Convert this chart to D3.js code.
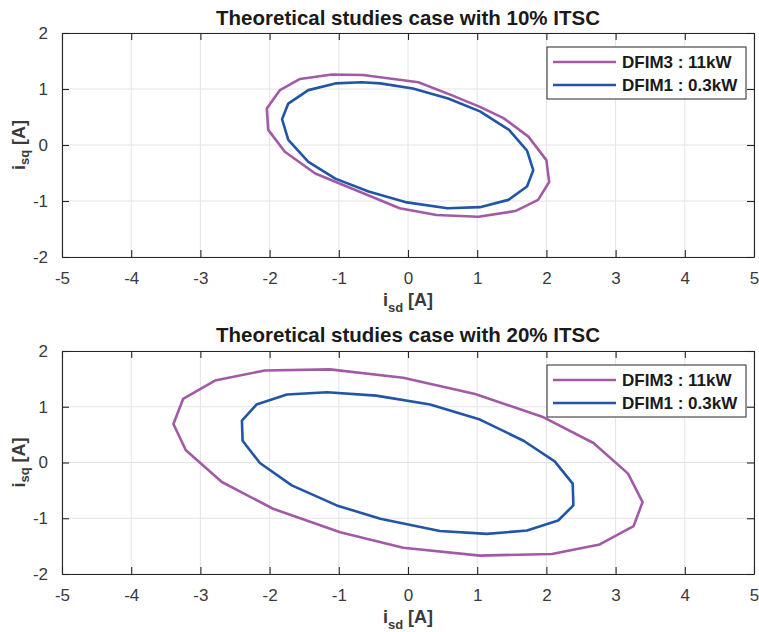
<!DOCTYPE html>
<html>
<head>
<meta charset="utf-8">
<script src="https://cdn.jsdelivr.net/npm/d3@7"></script>
<style>
  body { margin: 0; background: #fff; }
  svg { display: block; font-family: "Liberation Sans", Arial, Helvetica, sans-serif; }
</style>
</head>
<body>
<div id="chart"></div>
<script>
var svgWidth = 759;
var svgHeight = 632;

// Data: closed (isd, isq) trajectories in A
var titles = ["Theoretical studies case with 10% ITSC", "Theoretical studies case with 20% ITSC"];
var seriesNames = ["DFIM3 : 11kW", "DFIM1 : 0.3kW"];
var seriesColors = ["#a25aa7", "#2155a5"];
var xTicks = [-5, -4, -3, -2, -1, 0, 1, 2, 3, 4, 5];
var yTicks = [-2, -1, 0, 1, 2];

var dfim3_10 = [
  [-2.04, 0.65], [-1.85, 0.98], [-1.56, 1.18], [-1.10, 1.26], [-0.65, 1.25],
  [0.15, 1.12], [0.61, 0.90], [1.04, 0.68], [1.38, 0.48], [1.74, 0.15],
  [2.00, -0.27], [2.04, -0.66], [1.88, -0.98], [1.55, -1.18], [1.02, -1.28],
  [0.41, -1.25], [-0.12, -1.13], [-1.34, -0.51], [-1.78, -0.12], [-2.02, 0.27]
];
var dfim1_10 = [
  [-1.82, 0.46], [-1.73, 0.74], [-1.44, 0.98], [-1.05, 1.10], [-0.67, 1.12],
  [-0.40, 1.10], [0.07, 1.01], [0.58, 0.83], [1.04, 0.60], [1.46, 0.27],
  [1.72, -0.10], [1.81, -0.45], [1.72, -0.74], [1.45, -0.98], [1.04, -1.11],
  [0.57, -1.13], [-0.04, -1.02], [-0.57, -0.83], [-1.05, -0.60], [-1.44, -0.30],
  [-1.73, 0.09]
];
var dfim3_20 = [
  [-3.39, 0.69], [-3.25, 1.14], [-2.79, 1.47], [-2.07, 1.65], [-1.13, 1.67],
  [-0.07, 1.52], [0.97, 1.23], [1.96, 0.81], [2.68, 0.35], [3.18, -0.20],
  [3.39, -0.71], [3.26, -1.14], [2.77, -1.47], [2.08, -1.64], [1.04, -1.67],
  [-0.07, -1.53], [-0.98, -1.25], [-1.95, -0.83], [-2.69, -0.35], [-3.21, 0.22]
];
var dfim1_20 = [
  [-2.40, 0.75], [-2.19, 1.04], [-1.75, 1.22], [-1.17, 1.26], [-0.46, 1.20],
  [0.32, 1.04], [1.04, 0.77], [1.67, 0.39], [2.12, 0.02], [2.38, -0.38],
  [2.39, -0.77], [2.17, -1.04], [1.72, -1.22], [1.14, -1.28], [0.46, -1.23],
  [-0.40, -1.01], [-1.03, -0.77], [-1.68, -0.41], [-2.14, -0.01], [-2.39, 0.39]
];

var panels = [
  {title: titles[0], series: [dfim3_10, dfim1_10], top: 33, bottom: 257, titleY: 25},
  {title: titles[1], series: [dfim3_20, dfim1_20], top: 351, bottom: 574, titleY: 342}
];

var axLeft = 62, axRight = 754;
var ink = "#262626";
var fmt = d => String(d);   // plain hyphen minus like the original

var svg = d3.select("#chart")
  .append("svg")
  .attr("width", svgWidth)
  .attr("height", svgHeight);

panels.forEach(function(p) {
  var x = d3.scaleLinear().domain([-5, 5]).range([axLeft, axRight]);
  var y = d3.scaleLinear().domain([-2, 2]).range([p.bottom, p.top]);
  var g = svg.append("g");

  // grid
  g.selectAll(".vgrid").data(xTicks).enter().append("line")
    .attr("x1", d => x(d)).attr("x2", d => x(d))
    .attr("y1", p.top).attr("y2", p.bottom)
    .attr("stroke", "#e4e4e4").attr("stroke-width", 1);
  g.selectAll(".hgrid").data(yTicks).enter().append("line")
    .attr("x1", axLeft).attr("x2", axRight)
    .attr("y1", d => y(d)).attr("y2", d => y(d))
    .attr("stroke", "#e4e4e4").attr("stroke-width", 1);

  // curves
  var line = d3.line()
    .x(d => x(d[0]))
    .y(d => y(d[1]))
    .curve(d3.curveLinearClosed);
  p.series.forEach(function(s, i) {
    g.append("path")
      .attr("d", line(s))
      .attr("fill", "none")
      .attr("stroke", seriesColors[i])
      .attr("stroke-width", 2.6)
      .attr("stroke-linejoin", "round");
  });

  // axes with inward ticks on all sides
  var xb = d3.axisBottom(x).tickValues(xTicks).tickSizeInner(-7).tickSizeOuter(0).tickPadding(15).tickFormat(fmt);
  var xt = d3.axisTop(x).tickValues(xTicks).tickSizeInner(-7).tickSizeOuter(0).tickFormat("");
  var yl = d3.axisLeft(y).tickValues(yTicks).tickSizeInner(-7).tickSizeOuter(0).tickPadding(14).tickFormat(fmt);
  var yr = d3.axisRight(y).tickValues(yTicks).tickSizeInner(-7).tickSizeOuter(0).tickFormat("");

  [[xb, "translate(0," + p.bottom + ")"], [xt, "translate(0," + p.top + ")"],
   [yl, "translate(" + axLeft + ",0)"], [yr, "translate(" + axRight + ",0)"]].forEach(function(a) {
    var ag = g.append("g").attr("transform", a[1]).call(a[0]);
    ag.select(".domain").attr("stroke", ink).attr("stroke-width", 1.1);
    ag.selectAll(".tick line").attr("stroke", ink).attr("stroke-width", 1.1);
    ag.selectAll(".tick text")
      .attr("fill", "#3a3a3a")
      .style("font-size", "17px")
      .style("font-family", "'Liberation Sans', Arial, Helvetica, sans-serif");
  });

  // title
  g.append("text")
    .attr("x", (axLeft + axRight) / 2)
    .attr("y", p.titleY)
    .attr("text-anchor", "middle")
    .attr("font-size", "20.5px")
    .attr("font-weight", "bold")
    .attr("fill", "#1a1a1a")
    .text(p.title);

  // x label
  var xl = g.append("text")
    .attr("x", x(0))
    .attr("y", p.bottom + 49)
    .attr("text-anchor", "middle")
    .attr("font-size", "18px")
    .attr("font-weight", "bold")
    .attr("fill", "#3a3a3a");
  xl.append("tspan").text("i");
  xl.append("tspan").attr("dy", 6).attr("font-size", "13px").text("sd");
  xl.append("tspan").attr("dy", -6).text(" [A]");

  // y label
  var ylab = g.append("text")
    .attr("transform", "translate(25," + y(0) + ") rotate(-90)")
    .attr("text-anchor", "middle")
    .attr("font-size", "18px")
    .attr("font-weight", "bold")
    .attr("fill", "#3a3a3a");
  ylab.append("tspan").text("i");
  ylab.append("tspan").attr("dy", 4).attr("font-size", "13px").text("sq");
  ylab.append("tspan").attr("dy", -4).text(" [A]");

  // legend
  var lx = 547, ly = p.top + 14, lw = 199, lh = 52;
  var lg = g.append("g");
  lg.append("rect")
    .attr("x", lx).attr("y", ly).attr("width", lw).attr("height", lh)
    .attr("fill", "#fff").attr("stroke", ink).attr("stroke-width", 1);
  seriesNames.forEach(function(name, i) {
    var ry = ly + 15 + i * 23;
    lg.append("line")
      .attr("x1", lx + 6).attr("x2", lx + 69)
      .attr("y1", ry).attr("y2", ry)
      .attr("stroke", seriesColors[i]).attr("stroke-width", 2.6);
    lg.append("text")
      .attr("x", lx + 75).attr("y", ry + 6)
      .attr("font-size", "17px")
      .attr("font-weight", "bold")
      .attr("fill", "#1a1a1a")
      .text(name);
  });
});
</script>
</body>
</html>
